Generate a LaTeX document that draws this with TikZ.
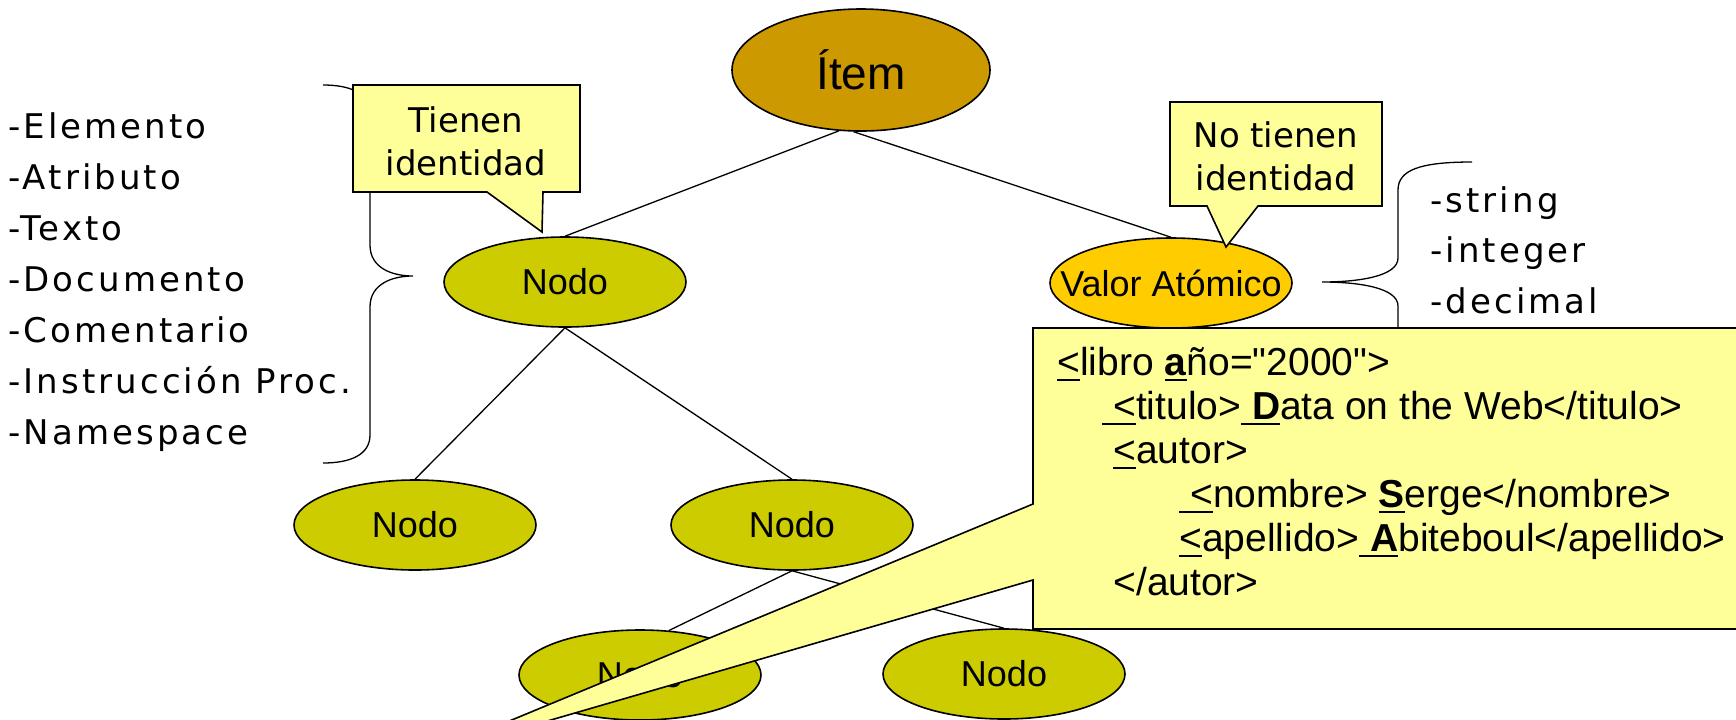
\documentclass[tikz,border=0pt]{standalone}
\usepackage{fontspec}
\setmainfont{Liberation Sans}
\newfontfamily\codefont[Ligatures=TeXOff]{Liberation Sans}
\newfontfamily\listfont[LetterSpace=9]{DejaVu Sans}
\newfontfamily\notefont{DejaVu Sans}
\usetikzlibrary{shapes.geometric}
\definecolor{itemcol}{HTML}{CC9900}
\definecolor{nodocol}{HTML}{CCCC00}
\definecolor{valorcol}{HTML}{FFCC00}
\definecolor{notecol}{HTML}{FFFF99}
\newsavebox\xulbox
\newcommand{\xul}[1]{\sbox\xulbox{#1}\rlap{\rule[-3pt]{\wd\xulbox}{1.1pt}}\usebox\xulbox}

\begin{document}
\begin{tikzpicture}[x=0.5pt,y=-0.5pt,
  nodo/.style={ellipse,draw,line width=0.8pt,inner sep=0pt,minimum width=121pt,minimum height=45pt,fill=nodocol,font=\fontsize{18pt}{20pt}\selectfont},
  edge/.style={line width=0.65pt},
  brace/.style={line width=0.65pt},
  callout/.style={draw,line width=0.8pt,fill=notecol},
  listtext/.style={inner sep=0pt,anchor=base west,font=\listfont\fontsize{17pt}{19pt}\selectfont},
  notetext/.style={inner sep=0pt,align=center,font=\notefont\fontsize{17pt}{21.5pt}\selectfont},
  codetext/.style={inner sep=0pt,anchor=base west,font=\codefont\fontsize{19.5pt}{21pt}\selectfont}]
\useasboundingbox (0,0) rectangle (1736,719);
\clip (0,0) rectangle (1736,719);

% tree of items
\node[nodo,fill=itemcol,minimum width=129pt,minimum height=61pt,font=\fontsize{23pt}{26pt}\selectfont] (item) at (861,70) {Ítem};
\node[nodo] (n1) at (565,282) {Nodo};
\node[nodo,fill=valorcol] (valor) at (1171,283) {\makebox[0pt]{Valor Atómico}};
\node[nodo] (n2a) at (415,525) {Nodo};
\node[nodo] (n2b) at (792,525) {Nodo};
\node[nodo] (n3a) at (640,675) {Nodo};
\node[nodo] (n3b) at (1004,674) {Nodo};

\draw[edge] (item.250) -- (n1.north);
\draw[edge] (item.263) -- (valor.north);
\draw[edge] (n1.south) -- (n2a.north);
\draw[edge] (n1.south) -- (n2b.north);
\draw[edge] (n2b.south) -- (n3a.57);
\draw[edge] (n2b.south) -- (n3b.north);

% braces and kinds
\draw[brace] (323,85) .. controls (350,85) and (370,93) .. (370,113) -- (370,245)
  .. controls (370,268) and (392,276) .. (413,276) .. controls (392,276) and (370,284) .. (370,307)
  -- (370,435) .. controls (370,455) and (350,463) .. (323,463);
\draw[brace] (1472,162) .. controls (1420,162) and (1398,170) .. (1398,190) -- (1398,258)
  .. controls (1398,276) and (1360,282) .. (1322,282) .. controls (1360,282) and (1398,288) .. (1398,306)
  -- (1398,374) .. controls (1398,394) and (1420,402) .. (1472,402);

\foreach \t [count=\i] in {-Elemento,-Atributo,-Texto,-Documento,-Comentario,-Instrucción Proc.,-Namespace}
  \node[listtext] (tipo\i) at (8,{87+51*\i}) {\t};
\foreach \t [count=\i] in {-string,-integer,-decimal}
  \node[listtext] (atom\i) at (1430,{161.5+50.5*\i}) {\t};

% callouts
\draw[callout] (353,85) -- (580,85) -- (580,192) -- (543,192) -- (542,232) -- (487,192) -- (353,192) -- cycle;
\node[notetext] (tienen) at (466,141) {Tienen\\identidad};
\draw[callout] (1170,102) -- (1382,102) -- (1382,206) -- (1258,206) -- (1226,247) -- (1207,206) -- (1170,206) -- cycle;
\node[notetext] (notienen) at (1276,156) {No tienen\\identidad};

\draw[callout] (1033,328) -- (1760,328) -- (1760,629) -- (1033,629) -- (1033,580) -- (420,758) -- (1033,504) -- cycle;
\node[codetext] (c1) at (1057,375) {\xul{<}libro \xul{\textbf{a}}ño="2000">};
\node[codetext] (c2) at (1102,419) {\xul{\ <}titulo>\xul{\ \textbf{D}}ata on the Web</titulo>};
\node[codetext] (c3) at (1113,463) {\xul{<}autor>};
\node[codetext] (c4) at (1179,507) {\xul{\ <}nombre> \xul{\textbf{S}}erge</nombre>};
\node[codetext] (c5) at (1179,551) {\xul{<}apellido>\xul{\ \textbf{A}}biteboul</apellido>};
\node[codetext] (c6) at (1113,595) {</autor>};
\end{tikzpicture}
\end{document}
